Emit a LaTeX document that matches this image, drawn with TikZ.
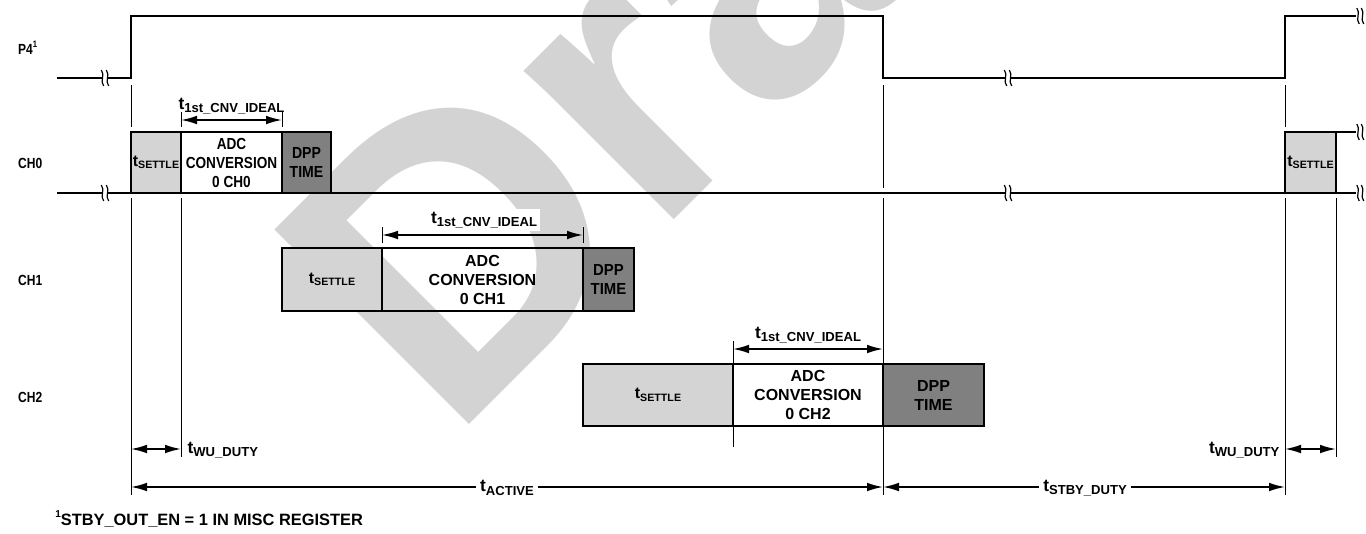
\documentclass[tikz,border=0pt]{standalone}
\usepackage{fontspec}
\setmainfont{Liberation Sans}
\usetikzlibrary{arrows.meta,fit}
\definecolor{lgray}{HTML}{D4D4D4}
\definecolor{dgray}{HTML}{808080}
\definecolor{wmgray}{HTML}{D3D3D3}
\newcommand\tbig[1]{{\fontsize{13}{13}\selectfont t}\raisebox{-2.6pt}{\fontsize{9.8}{10}\selectfont #1}}
\newcommand\tset{{\fontsize{12}{12}\selectfont t}\raisebox{-1.8pt}{\fontsize{8}{8}\selectfont SETTLE}}
\newcommand\brk[2]{%
  \fill[white] ({#1-2.5},{#2-3}) rectangle ({#1+2.5},{#2+3});
  \foreach \dx in {-2.5,2.5}{\draw[line width=0.9pt] ({#1+\dx-1.2},{#2-8}) .. controls ({#1+\dx+3},{#2-3}) and ({#1+\dx-3},{#2+3}) .. ({#1+\dx+1.2},{#2+8});}}
\newcommand\brkend[2]{%
  \foreach \dx in {0,4.5}{\draw[line width=0.9pt] ({#1+\dx-1.2},{#2-8}) .. controls ({#1+\dx+3},{#2-3}) and ({#1+\dx-3},{#2+3}) .. ({#1+\dx+1.2},{#2+8});}}
\begin{document}
\begin{tikzpicture}[x=0.75pt,y=-0.75pt,
  sig/.style={line width=2pt, line join=miter},
  guide/.style={line width=0.75pt},
  dimarr/.style={line width=1.2pt, {Latex[length=12pt,width=6.5pt]}-{Latex[length=12pt,width=6.5pt]}},
  tbox/.style={draw, line width=2pt, inner sep=0pt},
  settle/.style={tbox, fill=lgray},
  adc/.style={tbox},
  dpp/.style={tbox, fill=dgray},
  txt/.style={font=\bfseries\fontsize{12}{14.25}\selectfont, align=center, inner sep=0pt},
  lab/.style={font=\bfseries\fontsize{11}{13}\selectfont, anchor=west, inner sep=0pt, xscale=0.82},
  tl/.style={font=\bfseries, inner sep=1pt},
  wm/.style={font=\bfseries\fontsize{300}{300}\selectfont, text=wmgray, rotate=45, anchor=base west, inner sep=0pt}
]
\useasboundingbox (0,0) rectangle (1366,533);
% watermark
\begin{scope}
\clip (0,0) rectangle (1366,533);
\node[wm] (wm) at (450,444) {Draft};
\end{scope}

% signal labels
\node[lab] (lP4) at (18,48) {P4\raisebox{0.45em}{\fontsize{7}{7}\selectfont 1}};
\node[lab] (lCH0) at (18,163) {CH0};
\node[lab] (lCH1) at (18,280) {CH1};
\node[lab] (lCH2) at (18,397) {CH2};

% boxes CH0
\node[settle, fit={(131,132)(181,193)}] (s0) {};
\node[adc, fit={(181,132)(282,193)}] (a0) {};
\node[dpp, fit={(282,132)(331,193)}] (d0) {};
\node[txt] (s0t) at (s0.center) {\tset};
\node[txt, xscale=0.85] (a0t) at (a0.center) {ADC\\CONVERSION\\0 CH0};
\node[txt, xscale=0.88] (d0t) at (d0.center) {DPP\\TIME};
% right CH0
\node[settle, fit={(1285,132)(1336,193)}] (s0r) {};
\node[txt] (s0rt) at (s0r.center) {\tset};

% boxes CH1
\node[settle, fit={(282,248)(382,311)}] (s1) {};
\node[adc, fit={(382,248)(583,311)}] (a1) {};
\node[dpp, fit={(583,248)(634,311)}] (d1) {};
\node[txt] (s1t) at (s1.center) {\tset};
\node[txt] (a1t) at (a1.center) {ADC\\CONVERSION\\0 CH1};
\node[txt, xscale=0.93] (d1t) at (d1.center) {DPP\\TIME};

% boxes CH2
\node[settle, fit={(583,364)(733,426)}] (s2) {};
\node[adc, fit={(733,364)(883,426)}] (a2) {};
\node[dpp, fit={(883,364)(984,426)}] (d2) {};
\node[txt] (s2t) at (s2.center) {\tset};
\node[txt] (a2t) at (a2.center) {ADC\\CONVERSION\\0 CH2};
\node[txt] (d2t) at (d2.center) {DPP\\TIME};

% P4 signal
\draw[sig] (57,78) -- (131,78) -- (131,16) -- (883,16) -- (883,78) -- (1285,78) -- (1285,16) -- (1356,16);
% CH0 baseline and right top
\draw[sig] (57,193) -- (1356,193);
\draw[sig] (1336,132) -- (1356,132);
% breaks
\brk{105}{78}
\brk{105}{193}
\brk{1008}{78}
\brk{1008}{193}
\brkend{1358}{16}
\brkend{1358}{132}
\brkend{1358}{193}

% guides
\draw[guide] (131,85) -- (131,127);
\draw[guide] (131,198) -- (131,495);
\draw[guide] (181,112) -- (181,127);
\draw[guide] (181,198) -- (181,457);
\draw[guide] (282,112) -- (282,127);
\draw[guide] (382,227) -- (382,243);
\draw[guide] (583,227) -- (583,243);
\draw[guide] (733,341) -- (733,447);
\draw[guide] (883,85) -- (883,188);
\draw[guide] (883,198) -- (883,495);
\draw[guide] (1285,85) -- (1285,127);
\draw[guide] (1285,198) -- (1285,495);
\draw[guide] (1336,198) -- (1336,457);

% dimension coordinates
\coordinate (c0a) at (181,120); \coordinate (c0b) at (282,120);
\coordinate (c1a) at (382,235); \coordinate (c1b) at (583,235);
\coordinate (c2a) at (733,349); \coordinate (c2b) at (883,349);
\coordinate (wla) at (131,449); \coordinate (wlb) at (181,449);
\coordinate (wra) at (1285,449); \coordinate (wrb) at (1336,449);
\coordinate (aa) at (131,487); \coordinate (ab) at (883,487); \coordinate (sb) at (1285,487);

\draw[dimarr] (c0a) -- (c0b);
\draw[dimarr] (c1a) -- (c1b);
\draw[dimarr] (c2a) -- (c2b);
\draw[dimarr] (wla) -- (wlb);
\draw[dimarr] (wra) -- (wrb);
\draw[dimarr] (aa) -- (ab);
\draw[dimarr] (ab) -- (sb);

% dimension labels
\node[tl, anchor=south] (l0) at (231.5,116) {\tbig{1st\_CNV\_IDEAL}};
\node[tl, anchor=south, fill=white, inner sep=2pt] (l1) at (484,231) {\tbig{1st\_CNV\_IDEAL}};
\node[tl, anchor=south] (l2) at (808,345) {\tbig{1st\_CNV\_IDEAL}};
\node[tl, anchor=west] (lwl) at (186,450) {\tbig{WU\_DUTY}};
\node[tl, anchor=east] (lwr) at (1281,450) {\tbig{WU\_DUTY}};
\node[tl, fill=white, inner sep=3pt] (lact) at (507,488) {\tbig{ACTIVE}};
\node[tl, fill=white, inner sep=3pt] (lstb) at (1085,488) {\tbig{STBY\_DUTY}};

% footnote
\node[font=\bfseries\fontsize{12.3}{14}\selectfont, anchor=west, inner sep=0pt] (fn) at (55,519) {\raisebox{0.45em}{\fontsize{7.5}{7.5}\selectfont 1}STBY\_OUT\_EN = 1 IN MISC REGISTER};
\end{tikzpicture}
\end{document}
